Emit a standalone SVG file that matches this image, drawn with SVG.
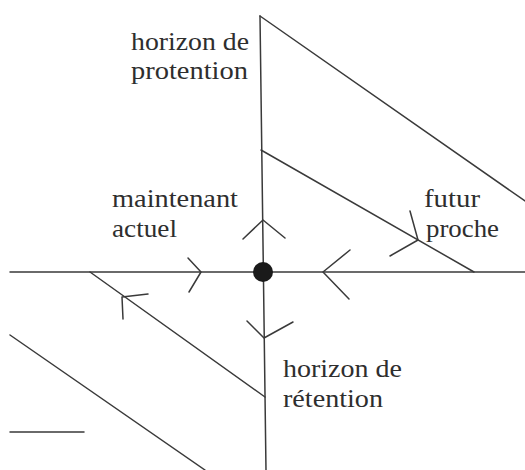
<svg xmlns="http://www.w3.org/2000/svg" width="525" height="470" viewBox="0 0 525 470">
<style>
.l{stroke:#3a3a3a;stroke-width:1.5;fill:none;stroke-linecap:round;stroke-linejoin:round}
.t{font-family:"Liberation Serif","DejaVu Serif",serif;font-size:26px;fill:#2e2e2e}
</style>
<rect width="525" height="470" fill="#ffffff"/>
<g id="connectors">
<path class="l" d="M260 16 L266 470"/>
<path class="l" d="M10 272 L525 272"/>
<path class="l" d="M260 16 L525 201"/>
<path class="l" d="M261 150 L474 272"/>
<path class="l" d="M90 272 L265 397"/>
<path class="l" d="M10 335 L205 470"/>
<path class="l" d="M10 432 L84 432"/>
<path class="l" d="M243 239 L263 220 L285 238"/>
<path class="l" d="M188 258 L201 272 L189 292"/>
<path class="l" d="M350 250 L323 272 L349 299"/>
<path class="l" d="M247 321 L264 338 L293 322"/>
<path class="l" d="M148 294 L122 297 L123 319"/>
<path class="l" d="M410 211 L418 240 L390 256"/>
</g>
<g id="now"><circle cx="263" cy="272" r="10" fill="#1a1a1a"/></g>
<g id="protention">
<text class="t" x="131" y="50" textLength="118" lengthAdjust="spacingAndGlyphs">horizon de</text>
<text class="t" x="131" y="79" textLength="117" lengthAdjust="spacingAndGlyphs">protention</text>
</g>
<g id="maintenant">
<text class="t" x="112" y="207" textLength="126" lengthAdjust="spacingAndGlyphs">maintenant</text>
<text class="t" x="112" y="237" textLength="65" lengthAdjust="spacingAndGlyphs">actuel</text>
</g>
<g id="futur">
<text class="t" x="424" y="207" textLength="56" lengthAdjust="spacingAndGlyphs">futur</text>
<text class="t" x="426" y="237" textLength="73" lengthAdjust="spacingAndGlyphs">proche</text>
</g>
<g id="retention">
<text class="t" x="283" y="377" textLength="119" lengthAdjust="spacingAndGlyphs">horizon de</text>
<text class="t" x="283" y="407" textLength="100" lengthAdjust="spacingAndGlyphs">rétention</text>
</g>
</svg>
